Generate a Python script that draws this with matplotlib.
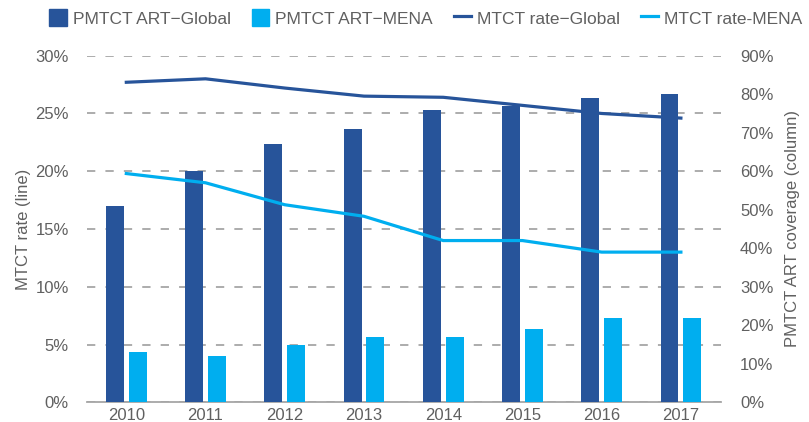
import numpy as np
import matplotlib.pyplot as plt
from matplotlib.patches import Patch
from matplotlib.lines import Line2D
from matplotlib.ticker import FuncFormatter

years = ['2010', '2011', '2012', '2013', '2014', '2015', '2016', '2017']
# column values (right axis, %)
art_global = [51, 60, 67, 71, 76, 77, 79, 80]
art_mena = [13, 12, 15, 17, 17, 19, 22, 22]
# line values (left axis, %)
rate_global = [27.7, 28.0, 27.2, 26.5, 26.4, 25.7, 25.0, 24.6]
rate_mena = [19.8, 19.0, 17.1, 16.1, 14.0, 14.0, 13.0, 13.0]

dark = '#27549a'
cyan = '#00aeef'
grey_txt = '#606060'
grey_ln = '#a6a6a6'

plt.rcParams['font.family'] = ['Liberation Sans', 'DejaVu Sans']
plt.rcParams['font.size'] = 12

fig = plt.figure(figsize=(8.09, 4.22), dpi=100)
ax = fig.add_axes([86.7/809, 19.7/422, (720.5-86.7)/809, (402.3-55.7)/422])
x = np.arange(len(years))

# left axis: grid + ticks
ax.set_ylim(0, 30)
ax.set_xlim(-0.5, len(years) - 0.5)
ax.set_yticks(np.arange(0, 31, 5))
ax.yaxis.set_major_formatter(FuncFormatter(lambda v, p: '%d%%' % v))
ax.grid(axis='y', color=grey_ln, linestyle=(0, (4.6, 5.6)), linewidth=1.3)
ax.set_axisbelow(True)
ax.set_xticks(x)
ax.set_xticklabels(years)
ax.tick_params(length=0, colors=grey_txt, labelsize=12)
ax.tick_params(axis='x', pad=4)
ax.tick_params(axis='y', pad=13)
for s in ['top', 'right', 'left']:
    ax.spines[s].set_visible(False)
ax.spines['bottom'].set_color(grey_ln)
ax.spines['bottom'].set_linewidth(1.3)
ax.set_ylabel('MTCT rate (line)', color=grey_txt, fontsize=12, labelpad=3)

# bars on right axis
axb = ax.twinx()
axb.set_ylim(0, 90)
axb.set_yticks(np.arange(0, 91, 10))
axb.yaxis.set_major_formatter(FuncFormatter(lambda v, p: '%d%%' % v))
w = 0.226
axb.bar(x - 0.144, art_global, w, color=dark)
axb.bar(x + 0.144, art_mena, w, color=cyan)
axb.tick_params(length=0, colors=grey_txt, labelsize=12, pad=14)
for s in axb.spines.values():
    s.set_visible(False)
axb.set_ylabel('PMTCT ART coverage (column)', color=grey_txt, fontsize=12, labelpad=8)

# lines on top, sharing the left scale
axl = ax.twinx()
axl.set_ylim(0, 30)
axl.set_yticks([])
for s in axl.spines.values():
    s.set_visible(False)
axl.plot(x, rate_global, color=dark, linewidth=2.3)
axl.plot(x, rate_mena, color=cyan, linewidth=2.3)
axl.set_xlim(-0.5, len(years) - 0.5)

handles = [
    Patch(color=dark, label='PMTCT ART\u2212Global'),
    Patch(color=cyan, label='PMTCT ART\u2212MENA'),
    Line2D([], [], color=dark, linewidth=2.3, label='MTCT rate\u2212Global'),
    Line2D([], [], color=cyan, linewidth=2.3, label='MTCT rate-MENA'),
]
leg = fig.legend(handles=handles, loc='center', bbox_to_anchor=(426/809, 1 - 18/422),
                 ncol=4, frameon=False, fontsize=12.5, handlelength=1.0,
                 handleheight=1.1, handletextpad=0.35, columnspacing=1.2)
for t in leg.get_texts():
    t.set_color(grey_txt)

fig.savefig('out.png', dpi=100)
